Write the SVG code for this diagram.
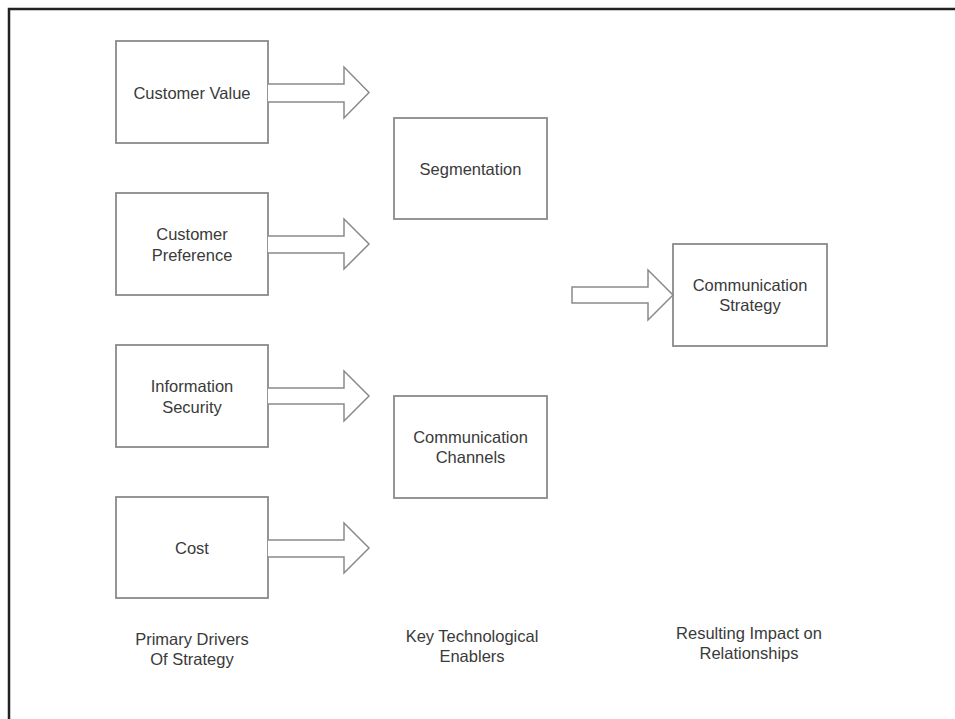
<svg xmlns="http://www.w3.org/2000/svg" width="955" height="719" viewBox="0 0 955 719">
<style>
.box{fill:#fff;stroke:#8a8a8a;stroke-width:1.8}
.arr{fill:#fff;stroke:#8a8a8a;stroke-width:1.5;stroke-linejoin:miter}
.t{font-family:"Liberation Sans",Arial,sans-serif;font-size:16.5px;fill:#3a3a3a;text-anchor:middle}
.frame{stroke:#222;stroke-width:2.5;fill:none}
</style>
<rect x="0" y="0" width="955" height="719" fill="#fff"/>
<path class="frame" d="M9,719 V9 H955"/>
<g id="customer-value"><rect class="box" x="116" y="41" width="152" height="102"/><text class="t" x="192" y="99">Customer Value</text></g>
<g id="customer-preference"><rect class="box" x="116" y="193" width="152" height="102"/><text class="t" x="192" y="240">Customer</text><text class="t" x="192" y="261">Preference</text></g>
<g id="information-security"><rect class="box" x="116" y="345" width="152" height="102"/><text class="t" x="192" y="392">Information</text><text class="t" x="192" y="413">Security</text></g>
<g id="cost"><rect class="box" x="116" y="497" width="152" height="101"/><text class="t" x="192" y="554">Cost</text></g>
<g id="segmentation"><rect class="box" x="394" y="118" width="153" height="101"/><text class="t" x="470.5" y="175">Segmentation</text></g>
<g id="communication-channels"><rect class="box" x="394" y="396" width="153" height="102"/><text class="t" x="470.5" y="443">Communication</text><text class="t" x="470.5" y="463">Channels</text></g>
<g id="communication-strategy"><rect class="box" x="673" y="244" width="154" height="102"/><text class="t" x="750" y="291">Communication</text><text class="t" x="750" y="311">Strategy</text></g>
<g id="label-primary"><text class="t" x="192" y="645">Primary Drivers</text><text class="t" x="192" y="665">Of Strategy</text></g>
<g id="label-key"><text class="t" x="472" y="642">Key Technological</text><text class="t" x="472" y="662">Enablers</text></g>
<g id="label-resulting"><text class="t" x="749" y="639">Resulting Impact on</text><text class="t" x="749" y="659">Relationships</text></g>
<g id="connectors">
<path class="arr" d="M268,84 H344 V67 L369,92.5 L344,118 V102 H268"/>
<path class="arr" d="M268,236 H344 V219 L369,244 L344,269 V253 H268"/>
<path class="arr" d="M268,388 H344 V371 L369,396 L344,421 V404 H268"/>
<path class="arr" d="M268,540 H344 V523 L369,548 L344,573 V557 H268"/>
<path class="arr" d="M572,287 H648 V270 L673,295 L648,320 V303 H572 Z"/>
</g>
</svg>
